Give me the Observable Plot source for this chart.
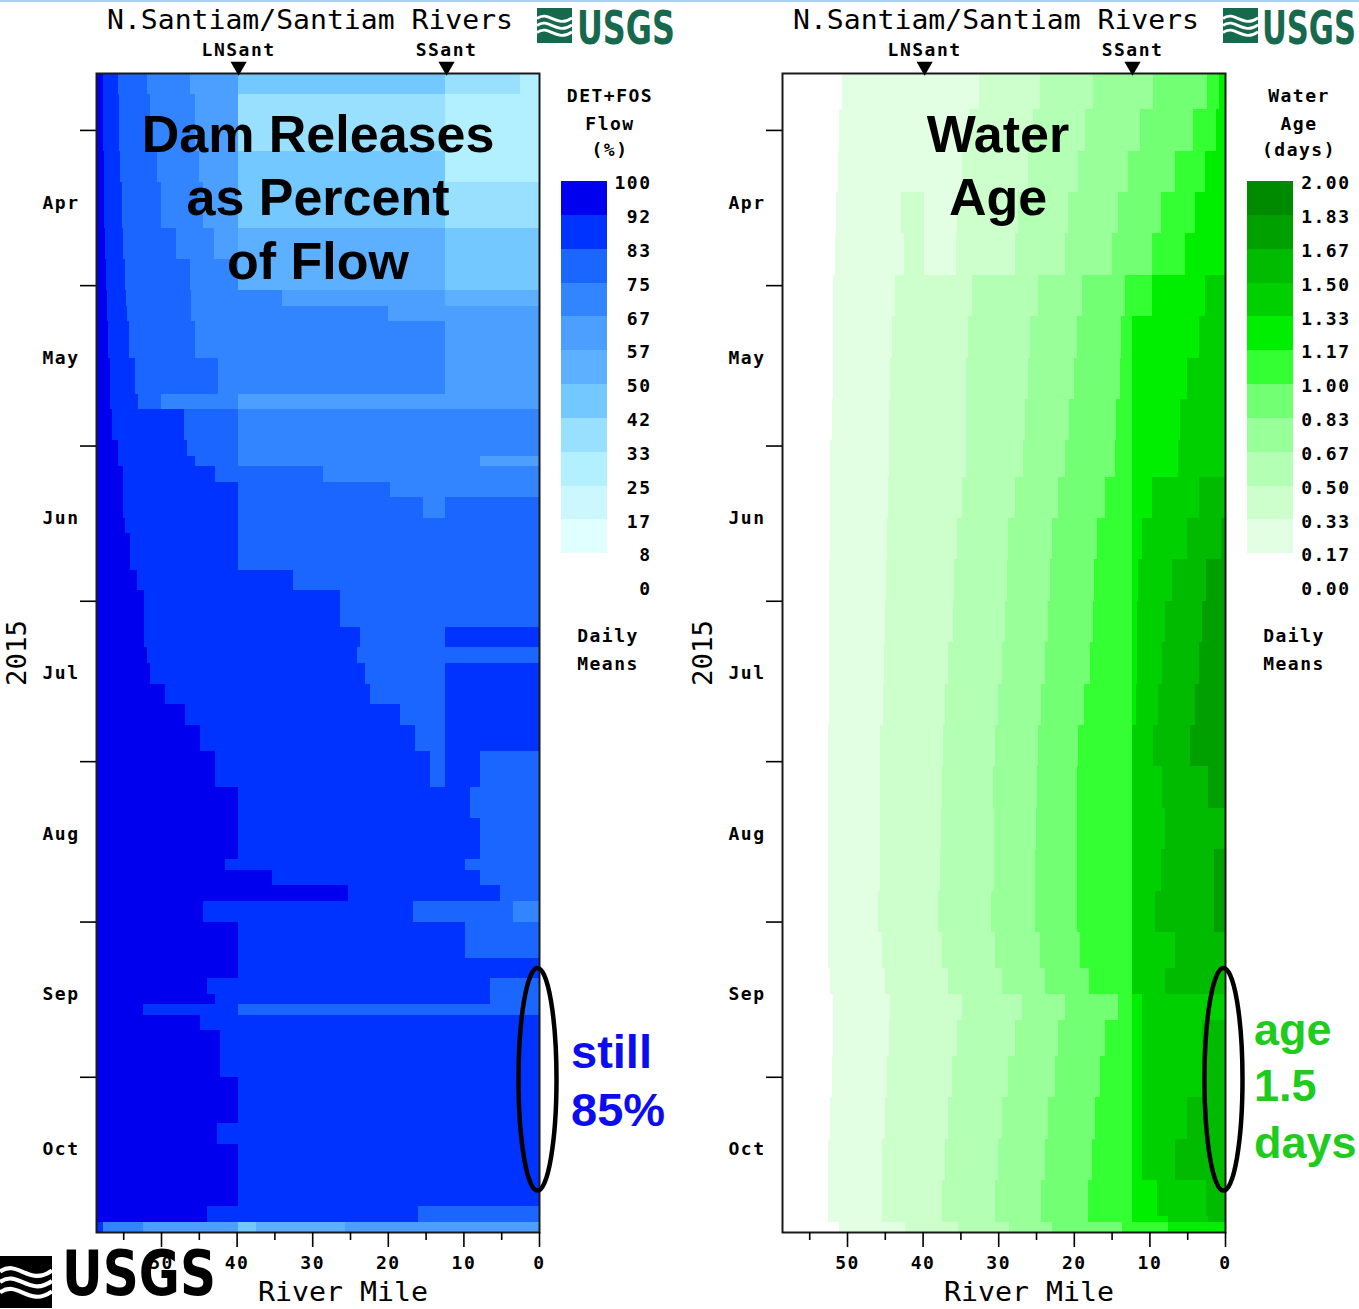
<!DOCTYPE html>
<html><head><meta charset="utf-8">
<script src="https://cdn.jsdelivr.net/npm/d3@7"></script>
<script src="https://cdn.jsdelivr.net/npm/@observablehq/plot@0.6"></script>
<style>
body{margin:0;background:#fff;}
#root{position:relative;width:1359px;height:1309px;overflow:hidden;background:#fff;}
#root > svg{position:absolute;max-width:none;background:transparent;}
</style></head><body><div id="root"></div>
<script>
// ---------------- data ----------------
const dateStart = "2015-03-21";
const dateEnd = "2015-10-31";
const monthStarts = ["2015-04-01","2015-05-01","2015-06-01","2015-07-01","2015-08-01","2015-09-01","2015-10-01"];
const monthLabelDates = ["2015-04-15","2015-05-15","2015-06-15","2015-07-15","2015-08-15","2015-09-15","2015-10-15"];
const majorMiles = [50, 40, 30, 20, 10, 0];
const minorMiles = [55, 45, 35, 25, 15, 5];
const mileMax = 58.6;
const stationNames = ["LNSant", "SSant"];
const stationMiles = [39.8, 12.3];

// Dam releases (DET+FOS) as percent of flow: band start dates and [start river mile, percent] segments
const flowDates = ["2015-03-21","2015-03-25","2015-04-05","2015-04-11","2015-04-20","2015-04-26","2015-05-02","2015-05-05","2015-05-08","2015-05-15","2015-05-22","2015-05-25","2015-05-31","2015-06-03","2015-06-05","2015-06-08","2015-06-11","2015-06-15","2015-06-18","2015-06-25","2015-06-29","2015-07-06","2015-07-10","2015-07-13","2015-07-17","2015-07-21","2015-07-25","2015-07-30","2015-08-06","2015-08-12","2015-08-20","2015-08-22","2015-08-25","2015-08-28","2015-09-01","2015-09-08","2015-09-12","2015-09-15","2015-09-17","2015-09-19","2015-09-22","2015-10-01","2015-10-10","2015-10-14","2015-10-26","2015-10-29"];
const flowRows = [
 [[58.6,96],[57.7,88],[55.7,79],[51.9,71],[46.2,62],[39.8,46],[12.4,38],[2.5,29]],
 [[58.6,96],[57.7,88],[55.5,79],[51.5,71],[45.5,62],[39.8,38],[12.4,29]],
 [[58.6,96],[57.6,88],[55.4,79],[50.5,71],[45.0,62],[39.8,46],[12.4,29]],
 [[58.6,96],[57.5,88],[55.2,79],[50.0,71],[44.5,62],[39.8,46],[12.4,38]],
 [[58.6,96],[57.4,88],[55.0,79],[48.0,71],[43.0,62],[39.8,54],[12.4,46]],
 [[58.6,96],[57.3,88],[54.8,79],[46.2,71],[39.8,54],[12.4,46]],
 [[58.6,96],[57.2,88],[54.6,79],[46.0,71],[34.0,62],[12.4,54]],
 [[58.6,96],[57.1,88],[54.5,79],[46.0,71],[20.0,62]],
 [[58.6,96],[57.0,88],[54.2,79],[45.5,71],[12.4,62]],
 [[58.6,96],[56.8,88],[53.5,79],[42.5,71],[12.4,62]],
 [[58.6,96],[56.7,88],[53.0,79],[50.0,71],[39.8,62]],
 [[58.6,96],[56.5,88],[47.0,79],[39.8,71]],
 [[58.6,96],[55.7,88],[46.5,79],[39.8,71]],
 [[58.6,96],[55.7,88],[45.5,79],[39.8,71],[7.8,62]],
 [[58.6,96],[55.0,88],[42.9,79],[28.6,71]],
 [[58.6,96],[55.0,88],[39.8,79],[19.7,71]],
 [[58.6,96],[55.0,88],[39.8,79],[15.3,71],[12.4,79]],
 [[58.6,96],[54.8,88],[39.8,79]],
 [[58.6,96],[54.1,88],[39.8,79]],
 [[58.6,96],[53.2,88],[32.5,79]],
 [[58.6,96],[52.2,88],[26.3,79]],
 [[58.6,96],[52.2,88],[23.7,79],[12.4,88]],
 [[58.6,96],[51.8,88],[24.1,79]],
 [[58.6,96],[51.5,88],[23.0,79],[12.4,88]],
 [[58.6,96],[49.5,88],[22.4,79],[12.4,88]],
 [[58.6,96],[46.8,88],[18.4,79],[12.4,88]],
 [[58.6,96],[44.8,88],[16.4,79],[12.4,88]],
 [[58.6,96],[42.9,88],[14.4,79],[12.4,88],[7.8,79]],
 [[58.6,96],[39.8,88],[9.1,79]],
 [[58.6,96],[39.8,88],[7.8,79]],
 [[58.6,96],[41.5,88],[9.8,79]],
 [[58.6,96],[35.3,88],[7.8,79]],
 [[58.6,96],[25.3,88],[5.2,79]],
 [[58.6,96],[44.4,88],[16.7,79],[3.5,71]],
 [[58.6,96],[39.8,88],[9.8,79]],
 [[58.6,96],[39.8,88]],
 [[58.6,96],[43.9,88],[6.5,79]],
 [[58.6,96],[42.9,88],[6.5,79]],
 [[58.6,96],[52.4,88],[39.8,79]],
 [[58.6,96],[44.8,88]],
 [[58.6,96],[42.2,88]],
 [[58.6,96],[39.8,88]],
 [[58.6,96],[42.6,88]],
 [[58.6,96],[39.8,88]],
 [[58.6,96],[43.9,88],[16.0,79]],
 [[58.6,88],[57.7,71],[52.4,62],[39.8,46],[37.5,54],[25.7,62]]
];

// Water age (days): band start dates and [start river mile, age] segments
const ageDates = ["2015-03-21","2015-03-28","2015-04-05","2015-04-13","2015-04-21","2015-04-29","2015-05-07","2015-05-15","2015-05-23","2015-05-31","2015-06-07","2015-06-15","2015-06-23","2015-07-01","2015-07-09","2015-07-17","2015-07-25","2015-08-02","2015-08-10","2015-08-18","2015-08-26","2015-09-03","2015-09-10","2015-09-15","2015-09-20","2015-09-27","2015-10-05","2015-10-13","2015-10-21","2015-10-28","2015-10-29"];
const ageRows = [
 [[58.6,.08],[50.7,.25],[32.6,.42],[24.5,.58],[17.4,.75],[9.5,.92],[2.4,1.08],[0.8,1.25]],
 [[58.6,.08],[51.0,.25],[33.8,.42],[25.4,.58],[18.5,.75],[11.3,.92],[4.2,1.08],[1.2,1.25]],
 [[58.6,.08],[51.2,.25],[34.8,.42],[26.1,.58],[19.4,.75],[12.8,.92],[6.6,1.08],[2.6,1.25]],
 [[58.6,.08],[51.4,.25],[42.8,.42],[39.8,.25],[35.4,.42],[27.4,.58],[20.8,.75],[14.2,.92],[8.5,1.08],[4.0,1.25]],
 [[58.6,.08],[51.6,.25],[42.4,.42],[39.8,.25],[35.6,.42],[27.8,.58],[21.2,.75],[14.9,.92],[9.7,1.08],[5.3,1.25]],
 [[58.6,.08],[51.8,.25],[43.7,.42],[33.5,.58],[24.7,.75],[18.9,.92],[13.2,1.08],[9.7,1.25],[2.6,1.42]],
 [[58.6,.08],[51.8,.25],[44.0,.42],[34.0,.58],[25.8,.75],[19.6,.92],[13.7,1.08],[12.3,1.25],[3.5,1.42]],
 [[58.6,.08],[51.9,.25],[44.3,.42],[34.2,.58],[26.0,.75],[20.0,.92],[13.9,1.08],[12.3,1.25],[5.0,1.42]],
 [[58.6,.08],[52.0,.25],[44.5,.42],[34.2,.58],[26.5,.75],[20.6,.92],[14.4,1.08],[12.3,1.25],[6.0,1.42]],
 [[58.6,.08],[52.2,.25],[44.5,.42],[34.2,.58],[26.7,.75],[21.2,.92],[14.6,1.08],[12.3,1.25],[6.2,1.42]],
 [[58.6,.08],[52.2,.25],[44.6,.42],[34.8,.58],[27.8,.75],[22.1,.92],[15.9,1.08],[12.3,1.25],[9.7,1.42],[3.5,1.58]],
 [[58.6,.08],[52.2,.25],[44.7,.42],[35.4,.58],[28.7,.75],[22.9,.92],[16.9,1.08],[12.3,1.25],[11.0,1.42],[5.0,1.58],[0.5,1.75]],
 [[58.6,.08],[52.4,.25],[44.9,.42],[35.8,.58],[28.9,.75],[23.2,.92],[17.3,1.08],[12.3,1.25],[11.5,1.42],[7.0,1.58],[2.5,1.75]],
 [[58.6,.08],[52.4,.25],[45.0,.42],[36.0,.58],[29.1,.75],[23.4,.92],[17.5,1.08],[12.3,1.25],[11.6,1.42],[7.9,1.58],[3.0,1.75]],
 [[58.6,.08],[52.4,.25],[45.1,.42],[36.6,.58],[29.5,.75],[23.8,.92],[17.9,1.08],[12.3,1.25],[11.6,1.42],[8.3,1.58],[3.5,1.75]],
 [[58.6,.08],[52.4,.25],[45.3,.42],[37.0,.58],[30.0,.75],[24.3,.92],[18.6,1.08],[12.3,1.25],[11.8,1.42],[8.8,1.58],[4.0,1.75]],
 [[58.6,.08],[52.5,.25],[45.6,.42],[37.3,.58],[30.4,.75],[24.7,.92],[19.4,1.08],[12.3,1.42],[9.5,1.58],[4.6,1.75]],
 [[58.6,.08],[52.5,.25],[45.6,.42],[37.4,.58],[30.7,.75],[24.9,.92],[19.6,1.08],[12.3,1.42],[8.3,1.58],[2.2,1.75]],
 [[58.6,.08],[52.5,.25],[45.6,.42],[37.6,.58],[30.6,.75],[25.0,.92],[19.6,1.08],[12.3,1.42],[8.0,1.58]],
 [[58.6,.08],[52.5,.25],[45.6,.42],[37.7,.58],[30.6,.75],[25.1,.92],[19.6,1.08],[12.3,1.42],[8.5,1.58],[1.5,1.75]],
 [[58.6,.08],[52.5,.25],[45.9,.42],[37.9,.58],[30.9,.75],[25.1,.92],[19.6,1.08],[12.3,1.42],[9.3,1.58],[1.5,1.75]],
 [[58.6,.08],[52.5,.25],[45.4,.42],[37.5,.58],[30.4,.75],[24.5,.92],[19.2,1.08],[12.3,1.42],[6.6,1.58]],
 [[58.6,.08],[52.3,.25],[45.0,.42],[36.6,.58],[29.5,.75],[23.8,.92],[18.0,1.08],[12.3,1.42],[8.0,1.58]],
 [[58.6,.08],[51.9,.25],[44.3,.42],[34.8,.58],[26.9,.75],[21.2,.92],[14.2,1.08],[12.3,1.25],[11.0,1.42]],
 [[58.6,.08],[51.9,.25],[44.5,.42],[35.5,.58],[27.8,.75],[22.1,.92],[15.9,1.08],[12.3,1.25],[11.0,1.42],[3.0,1.58]],
 [[58.6,.08],[52.0,.25],[44.7,.42],[36.1,.58],[28.7,.75],[22.5,.92],[16.5,1.08],[12.3,1.25],[11.0,1.42],[3.0,1.58]],
 [[58.6,.08],[52.3,.25],[45.0,.42],[36.6,.58],[29.5,.75],[23.4,.92],[17.2,1.08],[12.3,1.25],[11.0,1.42],[5.0,1.58]],
 [[58.6,.08],[52.5,.25],[45.4,.42],[37.0,.58],[30.0,.75],[23.8,.92],[17.6,1.08],[12.3,1.25],[11.0,1.42],[6.6,1.58]],
 [[58.6,.08],[52.5,.25],[45.4,.42],[37.5,.58],[30.4,.75],[24.3,.92],[18.1,1.08],[12.3,1.25],[9.0,1.42],[2.5,1.58]],
 [[58.6,.08],[52.5,.25],[45.4,.42],[37.5,.58],[30.4,.75],[24.3,.92],[18.1,1.08],[12.3,1.25],[7.5,1.42],[2.2,1.58]],
 [[58.6,.08],[51.0,.25],[42.3,.42],[35.3,.58],[28.6,.75],[22.9,.92],[13.6,1.08],[7.5,1.25]]
];

// legends
const flowThresholds = [8.33,16.67,25,33.33,41.67,50,58.33,66.67,75,83.33,91.67];
const flowColors = ["#ffffff","#e0ffff","#ccf7ff","#b3f0ff","#99e0ff","#73c8ff","#5cb0ff","#4d9fff","#3385ff","#1a66ff","#0033ff","#0000ee"];
const flowLegendValues = [96,88,79,71,62,54,46,38,29,21,12];
const flowLegendLabels = ["100","92","83","75","67","57","50","42","33","25","17","8","0"];
const ageThresholds = [0.1667,0.3333,0.5,0.6667,0.8333,1.0,1.1667,1.3333,1.5,1.6667,1.8333];
const ageColors = ["#ffffff","#e3ffe3","#ccffcc","#b3ffb3","#99ff99","#73ff73","#33ff33","#00ee00","#00d000","#00bb00","#00a000","#008a00"];
const ageLegendValues = [1.92,1.75,1.58,1.42,1.25,1.08,0.92,0.75,0.58,0.42,0.25];
const ageLegendLabels = ["2.00","1.83","1.67","1.50","1.33","1.17","1.00","0.83","0.67","0.50","0.33","0.17","0.00"];

// ---------------- drawing ----------------
const root = document.getElementById("root");
const monoStyle = "font-family:'DejaVu Sans Mono',monospace;font-size:18px;font-weight:bold;letter-spacing:1.5px;color:black;background:transparent;overflow:visible;";

function toCells(dates, rows) {
  const out = [];
  rows.forEach((row, i) => {
    const y1 = new Date(dates[i]);
    const y2 = new Date(i + 1 < dates.length ? dates[i + 1] : dateEnd);
    row.forEach(([mile, v], j) => {
      const x2 = j + 1 < row.length ? row[j + 1][0] : 0;
      out.push({x1: mile, x2, y1, y2, v});
    });
  });
  return out;
}

function panel(cells, colorOpts, width, marginRight) {
  return Plot.plot({
    width, height: 1309,
    marginTop: 73, marginBottom: 77, marginLeft: 96, marginRight,
    style: monoStyle,
    x: {domain: [mileMax, 0], label: null},
    y: {type: "utc", domain: [new Date(dateStart), new Date(dateEnd)], reverse: true, label: null},
    color: colorOpts,
    marks: [
      Plot.rect(cells, {x1: "x1", x2: "x2", y1: "y1", y2: "y2", fill: "v", shapeRendering: "crispEdges"}),
      Plot.frame({stroke: "#1a1a1a", strokeWidth: 2}),
      Plot.axisY({ticks: monthStarts.map(d => new Date(d)), tickSize: 16, fill: "none", strokeWidth: 1.6, label: null}),
      Plot.axisY({ticks: monthLabelDates.map(d => new Date(d)), tickSize: 0, tickPadding: 17, tickFormat: d3.utcFormat("%b"), label: null}),
      Plot.axisX({ticks: majorMiles, tickSize: 15, tickPadding: 9, strokeWidth: 1.6, label: null}),
      Plot.axisX({ticks: minorMiles, tickSize: 8, fill: "none", strokeWidth: 1.6, label: null}),
      Plot.dot(stationMiles, {x: d => d, frameAnchor: "top", dy: -7, symbol: "triangle", rotate: 180, r: 6, fill: "black"}),
      Plot.text(stationNames, {x: (d, i) => stationMiles[i], text: d => d, frameAnchor: "top", dy: -30})
    ]
  });
}

function legend(values, labels, colorOpts, width, dx) {
  return Plot.plot({
    width, height: 430, marginTop: 11, marginBottom: 13, marginLeft: 6, marginRight: width - 52,
    style: monoStyle,
    x: {axis: null},
    y: {domain: [0, 12], reverse: true, axis: null},
    color: colorOpts,
    marks: [
      Plot.rect(values, {y1: (d, i) => i, y2: (d, i) => i + 1, fill: d => d, shapeRendering: "crispEdges"}),
      Plot.text(labels, {y: (d, i) => i, text: d => d, frameAnchor: "right", textAnchor: "end", dx, dy: 2})
    ]
  });
}

const flowColor = {type: "threshold", domain: flowThresholds, range: flowColors};
const ageColor = {type: "threshold", domain: ageThresholds, range: ageColors};

const left = panel(toCells(flowDates, flowRows), flowColor, 680, 141);
left.style.left = "0px"; left.style.top = "0px";
root.appendChild(left);
const right = panel(toCells(ageDates, ageRows), ageColor, 673, 134);
right.style.left = "686px"; right.style.top = "0px";
root.appendChild(right);

const legL = legend(flowLegendValues, flowLegendLabels, flowColor, 100, 44);
legL.style.left = "555px"; legL.style.top = "170px";
root.appendChild(legL);
const legR = legend(ageLegendValues, ageLegendLabels, ageColor, 112, 57);
legR.style.left = "1241px"; legR.style.top = "170px";
root.appendChild(legR);

// ---------------- annotation overlay ----------------
function ellipseFor(plot, offsetX) {
  const xs = plot.scale("x"), ys = plot.scale("y");
  const cx = xs.apply(0) + offsetX;
  const y1 = ys.apply(new Date("2015-09-10")), y2 = ys.apply(new Date("2015-10-23"));
  return `<ellipse cx="${cx - 1.5}" cy="${(y1 + y2) / 2}" rx="19" ry="${(y2 - y1) / 2}" fill="none" stroke="black" stroke-width="4.5"/>`;
}
function logo(x, y, s, lx, lw, base, fs, color) {
  let p = `<rect x="${x}" y="${y}" width="${s}" height="${s}" fill="${color}"/>`;
  for (let k = 0; k < 3; k++) {
    const o = 0.2 * k;
    p += `<path d="M${x},${y + s * (0.3 + o)} C${x + s * 0.35},${y + s * (0.05 + o)} ${x + s * 0.55},${y + s * (0.6 + o)} ${x + s},${y + s * (0.28 + o)}" fill="none" stroke="white" stroke-width="${s * 0.08}"/>`;
  }
  p += `<text class="logoText" data-lx="${lx}" data-lw="${lw}" x="${lx}" y="${base}" font-family="'Liberation Sans Narrow','DejaVu Sans Condensed','Liberation Sans',sans-serif" font-weight="bold" font-size="${fs}" fill="${color}">USGS</text>`;
  return p;
}
const mono = `font-family="'DejaVu Sans Mono',monospace" font-weight="bold" font-size="18" letter-spacing="1.5"`;
const monoReg = `font-family="'DejaVu Sans Mono',monospace" font-size="26"`;
const sansB = `font-family="'Liberation Sans',Arial,sans-serif" font-weight="bold"`;
let ov = `<rect x="0" y="0" width="1359" height="2" fill="#a8cff5"/>`;
// titles
ov += `<text x="107" y="29" ${monoReg} textLength="406" lengthAdjust="spacingAndGlyphs">N.Santiam/Santiam Rivers</text>`;
ov += `<text x="793" y="29" ${monoReg} textLength="406" lengthAdjust="spacingAndGlyphs">N.Santiam/Santiam Rivers</text>`;
ov += `<text x="258" y="1301" ${monoReg} textLength="170" lengthAdjust="spacingAndGlyphs">River Mile</text>`;
ov += `<text x="944" y="1301" ${monoReg} textLength="170" lengthAdjust="spacingAndGlyphs">River Mile</text>`;
ov += `<text transform="translate(26,653) rotate(-90)" text-anchor="middle" ${monoReg} textLength="66" lengthAdjust="spacingAndGlyphs">2015</text>`;
ov += `<text transform="translate(712,653) rotate(-90)" text-anchor="middle" ${monoReg} textLength="66" lengthAdjust="spacingAndGlyphs">2015</text>`;
// legend titles
[["DET+FOS",102],["Flow",130],["(%)",156]].forEach(([t, y]) => ov += `<text x="610" y="${y}" text-anchor="middle" ${mono}>${t}</text>`);
[["Water",102],["Age",130],["(days)",156]].forEach(([t, y]) => ov += `<text x="1299" y="${y}" text-anchor="middle" ${mono}>${t}</text>`);
[["Daily",642],["Means",670]].forEach(([t, y]) => {
  ov += `<text x="608" y="${y}" text-anchor="middle" ${mono}>${t}</text>`;
  ov += `<text x="1294" y="${y}" text-anchor="middle" ${mono}>${t}</text>`;
});
// big annotations
[["Dam Releases",152],["as Percent",215],["of Flow",279]].forEach(([t, y]) => ov += `<text x="318" y="${y}" text-anchor="middle" ${sansB} font-size="52">${t}</text>`);
[["Water",152],["Age",215]].forEach(([t, y]) => ov += `<text x="998" y="${y}" text-anchor="middle" ${sansB} font-size="52">${t}</text>`);
[["still",1068],["85%",1126]].forEach(([t, y]) => ov += `<text x="571" y="${y}" ${sansB} font-size="47" fill="#0c0cf0">${t}</text>`);
[["age",1045],["1.5",1101],["days",1158]].forEach(([t, y]) => ov += `<text x="1254" y="${y}" ${sansB} font-size="45" fill="#1ecb1e">${t}</text>`);
ov += ellipseFor(left, 0) + ellipseFor(right, 686);
// logos
ov += logo(537, 8, 35, 577, 98, 44, 47, "#17694d");
ov += logo(1223, 8, 35, 1262, 94, 44, 47, "#17694d");
ov += logo(0, 1256, 52, 62, 154, 1295, 63, "#000000");
const overlay = `<svg width="1359" height="1309" style="left:0;top:0;pointer-events:none" xmlns="http://www.w3.org/2000/svg">${ov}</svg>`;
root.insertAdjacentHTML("beforeend", overlay);
// fit logo lettering to its measured width
root.querySelectorAll("text.logoText").forEach(t => {
  const lx = +t.dataset.lx, lw = +t.dataset.lw;
  const b = t.getBBox();
  const sx = lw / b.width;
  t.setAttribute("transform", `translate(${lx},0) scale(${sx},1) translate(${-b.x},0)`);
});
</script></body></html>
